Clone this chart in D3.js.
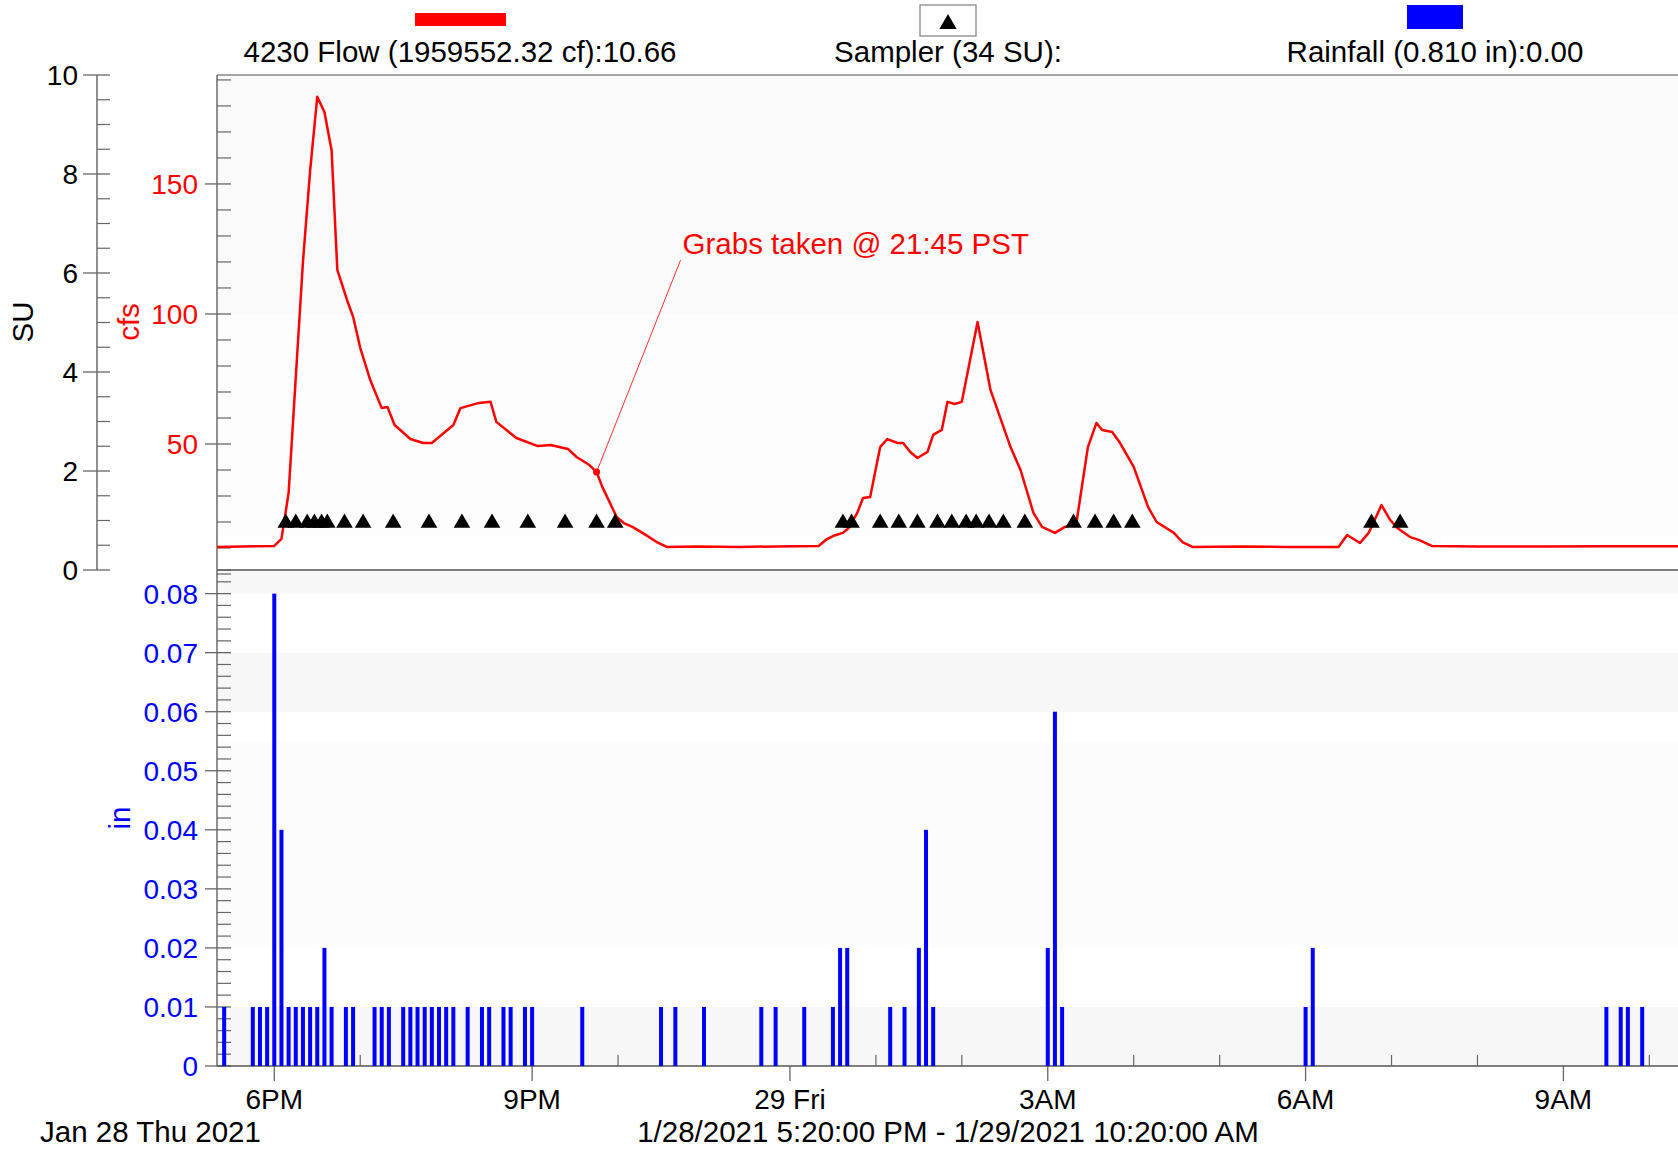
<!DOCTYPE html>
<html><head><meta charset="utf-8">
<script src="https://cdn.jsdelivr.net/npm/d3@7"></script>
<style>
html,body{margin:0;padding:0;background:#fff;}
svg{display:block;font-family:"Liberation Sans",Arial,sans-serif;}
</style></head><body>
<svg id="chart" width="1678" height="1152"></svg>
<script>
// ---------------- DATA ----------------
const flowTimes = ["17:20","18:00","18:05","18:10","18:20","18:25","18:30","18:35","18:40","18:44","18:51","18:55","19:00","19:07","19:15","19:19","19:24","19:35","19:44","19:50","20:05","20:10","20:23","20:31","20:35","20:49","21:04","21:13","21:25","21:31","21:40","21:45","21:49","21:59","22:04","22:10","22:17","22:27","22:34","22:55","23:25","23:50","00:20","00:25","00:30","00:37","00:41","00:47","00:51","00:56","01:03","01:08","01:15","01:19","01:24","01:29","01:36","01:40","01:46","01:50","01:55","02:00","02:11","02:20","02:34","02:41","02:50","02:56","03:05","03:12","03:20","03:28","03:34","03:38","03:45","03:50","04:00","04:10","04:16","04:28","04:34","04:41","05:15","05:45","06:23","06:29","06:38","06:44","06:53","06:59","07:04","07:13","07:19","07:28","08:00","08:45","09:30","10:20"];
const flowCfs = [10.4,10.8,13.5,31.2,120,155,183.5,177.7,163,117,105,99,87,74.6,63.8,64.2,57.3,51.9,50.4,50.4,57.3,63.8,65.8,66.2,58.5,52.3,49.2,49.6,48.1,45,41.9,39.2,33.5,21.9,19.6,18.1,15.8,12.3,10.4,10.6,10.4,10.6,10.8,13.1,14.6,15.8,17.7,23.5,29.2,29.6,48.8,51.9,50.4,50.4,46.9,44.6,46.9,53.5,55.4,66.2,65.4,66.2,96.9,70.8,48.8,40,23.5,18.1,15.8,18.1,19.6,48.8,58.1,55.4,54.6,50.8,41.2,25.8,20,15.8,12.3,10.4,10.6,10.4,10.4,15,11.9,15.8,26.5,20.8,17.7,14.2,13.1,10.8,10.6,10.6,10.7,10.66];

const samplerTimes = ["18:08","18:15","18:23","18:28","18:33","18:37","18:49","19:02","19:23","19:48","20:11","20:32","20:57","21:23","21:45","21:58","00:37","00:43","01:03","01:16","01:29","01:43","01:53","02:03","02:10","02:19","02:29","02:44","03:18","03:33","03:46","03:59","06:46","07:06"];
const samplerSU = 1;

const rainTimes = ["17:25","17:45","17:50","17:55","18:00","18:05","18:10","18:15","18:20","18:25","18:30","18:35","18:40","18:50","18:55","19:10","19:15","19:20","19:30","19:35","19:40","19:45","19:50","19:55","20:00","20:05","20:15","20:25","20:30","20:40","20:45","20:55","21:00","21:35","22:30","22:40","23:00","23:40","23:50","00:10","00:30","00:35","00:40","01:10","01:20","01:30","01:35","01:40","03:00","03:05","03:10","06:00","06:05","09:30","09:40","09:45","09:55"];
const rainInches = [0.01,0.01,0.01,0.01,0.08,0.04,0.01,0.01,0.01,0.01,0.01,0.02,
  0.01,0.01,0.01,0.01,0.01,0.01,0.01,0.01,0.01,0.01,
  0.01,0.01,0.01,0.01,0.01,0.01,0.01,0.01,0.01,0.01,
  0.01,0.01,0.01,0.01,0.01,0.01,0.01,0.01,0.01,
  0.02,0.02,0.01,0.01,0.02,0.04,0.01,0.02,0.06,0.01,0.01,0.02,0.01,0.01,0.01,0.01];

const grabTime = "21:45";
const grabCfs = 39.2;
const grabLabel = "Grabs taken @ 21:45 PST";

const suTicks = [0,2,4,6,8,10];
const cfsTicks = [50,100,150];
const inTicks = [0,0.01,0.02,0.03,0.04,0.05,0.06,0.07,0.08];
const xMajorTimes = ["18:00","21:00","00:00","03:00","06:00","09:00"];
const xMajorLabels = ["6PM","9PM","29 Fri","3AM","6AM","9AM"];
const startTime = "17:20", endTime = "10:20";

const legendFlow = "4230 Flow (1959552.32 cf):10.66";
const legendSampler = "Sampler (34 SU):";
const legendRain = "Rainfall (0.810 in):0.00";
const dateLabel = "Jan 28 Thu 2021";
const rangeLabel = "1/28/2021 5:20:00 PM - 1/29/2021 10:20:00 AM";

// ---------------- HELPERS ----------------
function T(s){ const [h,m]=s.split(":").map(Number); return new Date(2021,0,h>=17?28:29,h,m); }

const svg = d3.select("#chart");
const L = 217, R = 1678, topY = 75, midY = 570, botY = 1066;
const FS = 28, FSL = 29.5;
const axisCol = "#555";

const x = d3.scaleTime().domain([T(startTime), T(endTime)]).range([L, R]);
const ySU = d3.scaleLinear().domain([0,10]).range([midY, topY]);
const yCfs = d3.scaleLinear().domain([0,191.9]).range([574, topY]);
const yIn = d3.scaleLinear().domain([0,0.084]).range([botY, midY]);

// ---------------- BACKGROUND BANDS ----------------
const bg = svg.append("g");
bg.append("rect").attr("x",L).attr("y",yCfs(191.9)).attr("width",R-L).attr("height",yCfs(100)-yCfs(191.9)).attr("fill","#fafafa");
bg.append("rect").attr("x",L).attr("y",yCfs(100)).attr("width",R-L).attr("height",yCfs(15)-yCfs(100)).attr("fill","#fdfdfd");
[[0.08,0.084,"#f7f7f7"],[0.06,0.07,"#f7f7f7"],[0.02,0.055,"#fcfcfc"],[0,0.01,"#f7f7f7"]].forEach(([a,b,c])=>{
  bg.append("rect").attr("x",L).attr("y",yIn(b)).attr("width",R-L).attr("height",yIn(a)-yIn(b)).attr("fill",c);
});

// ---------------- FRAME LINES ----------------
svg.append("line").attr("x1",L).attr("x2",R).attr("y1",topY).attr("y2",topY).attr("stroke","#888").attr("stroke-width",1.5);
svg.append("line").attr("x1",L).attr("x2",R).attr("y1",midY).attr("y2",midY).attr("stroke",axisCol).attr("stroke-width",1.5);

// ---------------- Y AXES ----------------
function drawYAxis(g, scale, axisX, y0, y1, majors, minors, color, fmt, labelX, majL, majR, minR){
  g.append("line").attr("x1",axisX).attr("x2",axisX).attr("y1",y0).attr("y2",y1).attr("stroke",axisCol).attr("stroke-width",1.3);
  g.selectAll(".mn").data(minors).join("line")
    .attr("x1",axisX).attr("x2",axisX+minR).attr("y1",d=>scale(d)).attr("y2",d=>scale(d))
    .attr("stroke","#666").attr("stroke-width",1.2);
  g.selectAll(".mj").data(majors).join("line")
    .attr("x1",axisX-majL).attr("x2",axisX+majR).attr("y1",d=>scale(d)).attr("y2",d=>scale(d))
    .attr("stroke","#666").attr("stroke-width",1.3);
  g.selectAll("text").data(majors).join("text")
    .attr("x",labelX).attr("y",d=>scale(d)).attr("dy","0.36em")
    .attr("text-anchor","end").attr("font-size",FS).attr("fill",color).text(fmt);
}
const suMinor = d3.range(0,10.01,0.5).filter(v=>!suTicks.includes(v));
drawYAxis(svg.append("g"), ySU, 97, topY, midY, suTicks, suMinor, "#000", d=>d, 78, 14, 13, 13);
const cfsMinor = d3.range(0,191,10).filter(v=>!cfsTicks.includes(v));
drawYAxis(svg.append("g"), yCfs, L, topY, midY, cfsTicks, cfsMinor, "#ff0000", d=>d, 198, 12, 14, 14);
const inMinor = d3.range(0,0.0845,0.002).filter(v=>!inTicks.some(t=>Math.abs(t-v)<1e-6));
drawYAxis(svg.append("g"), yIn, L, midY, botY, inTicks, inMinor, "#0000ff", d=>d===0?"0":d.toFixed(2), 198, 12, 14, 14);

// axis titles
svg.append("text").attr("transform","translate(33,322) rotate(-90)").attr("text-anchor","middle").attr("font-size",FSL).attr("fill","#000").text("SU");
svg.append("text").attr("transform","translate(139,322) rotate(-90)").attr("text-anchor","middle").attr("font-size",FSL).attr("fill","#ff0000").text("cfs");
svg.append("text").attr("transform","translate(130,818) rotate(-90)").attr("text-anchor","middle").attr("font-size",FSL).attr("fill","#0000ff").text("in");

// ---------------- X AXIS ----------------
const xg = svg.append("g");
xg.append("line").attr("x1",L).attr("x2",R).attr("y1",botY).attr("y2",botY).attr("stroke",axisCol).attr("stroke-width",1.5);
const majDates = xMajorTimes.map(T);
const minorDates = d3.timeHour.range(T("18:00"), T(endTime)).filter(d=>!majDates.some(m=>+m===+d));
xg.selectAll(".mn").data(minorDates).join("line")
  .attr("x1",d=>x(d)).attr("x2",d=>x(d)).attr("y1",botY).attr("y2",botY-11).attr("stroke","#666").attr("stroke-width",1.2);
xg.selectAll(".mj").data(majDates).join("line")
  .attr("x1",d=>x(d)).attr("x2",d=>x(d)).attr("y1",botY).attr("y2",botY+15).attr("stroke","#666").attr("stroke-width",1.3);
xg.selectAll("text").data(majDates).join("text")
  .attr("x",d=>x(d)).attr("y",1109).attr("text-anchor","middle").attr("font-size",FS).attr("fill","#000")
  .text((d,i)=>xMajorLabels[i]);
svg.append("text").attr("x",40).attr("y",1142).attr("font-size",FSL).text(dateLabel);
svg.append("text").attr("x",948).attr("y",1142).attr("text-anchor","middle").attr("font-size",FSL).text(rangeLabel);

// ---------------- CLIPS ----------------
const defs = svg.append("defs");
defs.append("clipPath").attr("id","clipTop").append("rect").attr("x",L).attr("y",topY).attr("width",R-L).attr("height",midY-topY);
defs.append("clipPath").attr("id","clipBot").append("rect").attr("x",L).attr("y",midY).attr("width",R-L).attr("height",botY-midY);

// ---------------- RAIN BARS ----------------
const rain = rainTimes.map((t,i)=>({t:T(t), v:rainInches[i]}));
svg.append("g").attr("clip-path","url(#clipBot)").selectAll("rect").data(rain).join("rect")
  .attr("x",d=>x(d.t)-2).attr("width",4)
  .attr("y",d=>yIn(d.v)).attr("height",d=>yIn(0)-yIn(d.v)).attr("fill","#0000ff");

// ---------------- FLOW LINE ----------------
const flow = flowTimes.map((t,i)=>({t:T(t), v:flowCfs[i]}));
const gTop = svg.append("g").attr("clip-path","url(#clipTop)");
gTop.append("path").datum(flow)
  .attr("d", d3.line().x(d=>x(d.t)).y(d=>yCfs(d.v)))
  .attr("fill","none").attr("stroke","#ff0000").attr("stroke-width",2.5).attr("stroke-linejoin","round");

// ---------------- SAMPLER MARKS ----------------
const tri = d3.symbol(d3.symbolTriangle, 120);
gTop.selectAll(".smp").data(samplerTimes.map(T)).join("path")
  .attr("d", tri).attr("transform", d=>`translate(${x(d)},${ySU(samplerSU)+2.5})`).attr("fill","#000");

// ---------------- ANNOTATION ----------------
const gx = x(T(grabTime)), gy = yCfs(grabCfs);
svg.append("line").attr("x1",gx).attr("y1",gy).attr("x2",gx+84).attr("y2",gy-212).attr("stroke","#ff3030").attr("stroke-width",1);
svg.append("circle").attr("cx",gx).attr("cy",gy).attr("r",3.5).attr("fill","#ff0000");
svg.append("text").attr("x",gx+86).attr("y",gy-218).attr("font-size",FSL).attr("fill","#ff0000").text(grabLabel);

// ---------------- LEGEND ----------------
const lg = svg.append("g");
lg.append("rect").attr("x",415).attr("y",13).attr("width",91).attr("height",13).attr("fill","#ff0000");
lg.append("text").attr("x",460).attr("y",62).attr("text-anchor","middle").attr("font-size",FSL).text(legendFlow);
lg.append("rect").attr("x",920).attr("y",5).attr("width",56).attr("height",31).attr("fill","#fff").attr("stroke","#888").attr("stroke-width",1.3);
lg.append("path").attr("d", d3.symbol(d3.symbolTriangle, 130)()).attr("transform","translate(948,24)").attr("fill","#000");
lg.append("text").attr("x",948).attr("y",62).attr("text-anchor","middle").attr("font-size",FSL).text(legendSampler);
lg.append("rect").attr("x",1407).attr("y",5).attr("width",56).attr("height",24).attr("fill","#0000ff");
lg.append("text").attr("x",1435).attr("y",62).attr("text-anchor","middle").attr("font-size",FSL).text(legendRain);
</script>
</body></html>
